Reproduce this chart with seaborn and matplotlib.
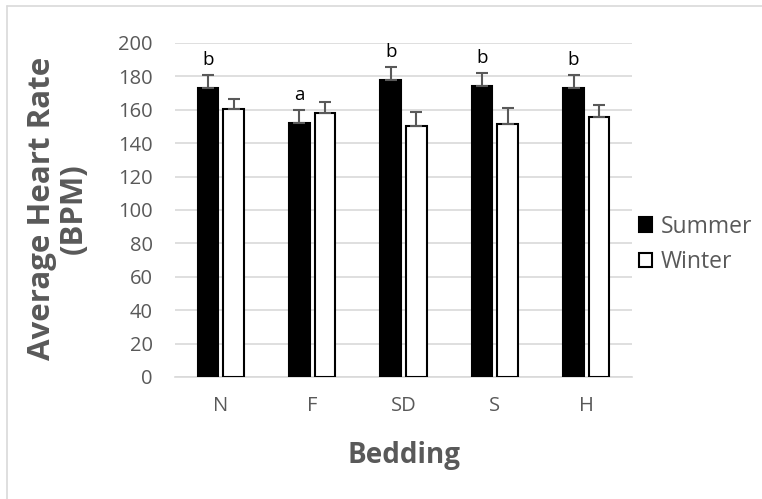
import matplotlib
matplotlib.use("Agg")
import matplotlib.pyplot as plt
import seaborn as sns
import pandas as pd
from matplotlib.lines import Line2D

bedding = ["N", "F", "SD", "S", "H"]
summer = [173, 152, 178, 174, 173]
winter = [160.5, 158, 150.5, 151.5, 155.5]
summer_err = [8, 8, 7.5, 8, 8]
winter_err = [6, 6.5, 8, 9.5, 7.5]
letters = ["b", "a", "b", "b", "b"]
seasons = ["Summer", "Winter"]

df = pd.DataFrame({
    "Bedding": bedding * 2,
    "Season": [seasons[0]] * len(bedding) + [seasons[1]] * len(bedding),
    "HR": summer + winter,
})

sns.set_style("white")
plt.rcParams["font.family"] = ["Open Sans", "DejaVu Sans"]
gray = "#595959"

fig = plt.figure(figsize=(7.62, 4.99), dpi=100)
ax = fig.add_axes([0.2297, 0.2445, 0.5997, 0.6695])

sns.barplot(data=df, x="Bedding", y="HR", hue="Season", order=bedding,
            hue_order=seasons, palette={"Summer": "black", "Winter": "white"},
            width=0.56, gap=0.2, edgecolor="black", linewidth=1.5,
            errorbar=None, ax=ax, zorder=3)

conts = ax.containers
for cont, vals, errs in [(conts[0], summer, summer_err), (conts[1], winter, winter_err)]:
    xs = [p.get_x() + p.get_width() / 2 for p in cont.patches]
    ax.errorbar(xs, vals, yerr=[[0] * len(errs), errs], fmt="none",
                ecolor=gray, elinewidth=1.5, capsize=4.5, capthick=1.5, zorder=4)
xs_s = [p.get_x() + p.get_width() / 2 for p in conts[0].patches]
for x, v, e, t in zip(xs_s, summer, summer_err, letters):
    ax.text(x, v + e + 3.5, t, ha="center", va="bottom", fontsize=13.5, color="black")

ax.set_ylim(0, 200)
ax.set_yticks(range(0, 201, 20))
ax.set_xlim(-0.5, len(bedding) - 0.5)
ax.grid(axis="y", color="#d9d9d9", linewidth=1.2, zorder=0)
ax.set_axisbelow(True)
for s in ["top", "right", "left"]:
    ax.spines[s].set_visible(False)
ax.spines["bottom"].set_color("#d9d9d9")
ax.spines["bottom"].set_linewidth(1.2)
ax.tick_params(axis="both", length=0, colors=gray, labelsize=14.5)
ax.tick_params(axis="y", pad=16)
ax.tick_params(axis="x", pad=14)

ax.set_ylabel("Average Heart Rate\n(BPM)", fontsize=22.5, fontweight="bold",
              color=gray, linespacing=1.1, va="center")
ax.yaxis.set_label_coords(-0.256, 0.505)
ax.set_xlabel("Bedding", fontsize=20, fontweight="bold", color=gray, labelpad=18)

handles, labels = ax.get_legend_handles_labels()
leg = ax.legend(handles, labels, loc="center left", bbox_to_anchor=(0.826, 0.51),
                bbox_transform=fig.transFigure, frameon=False, fontsize=16.5,
                handlelength=0.6, handleheight=0.6, handletextpad=0.35,
                labelspacing=0.5, borderaxespad=0)
for t in leg.get_texts():
    t.set_color(gray)

fig.add_artist(Line2D([7 / 762, 7 / 762], [0, 1 - 6 / 499], transform=fig.transFigure,
                      color="#d9d9d9", linewidth=1.2))
fig.add_artist(Line2D([7 / 762, 1], [1 - 6 / 499, 1 - 6 / 499], transform=fig.transFigure,
                      color="#d9d9d9", linewidth=1.2))

fig.savefig("out.png", dpi=100, facecolor="white")
